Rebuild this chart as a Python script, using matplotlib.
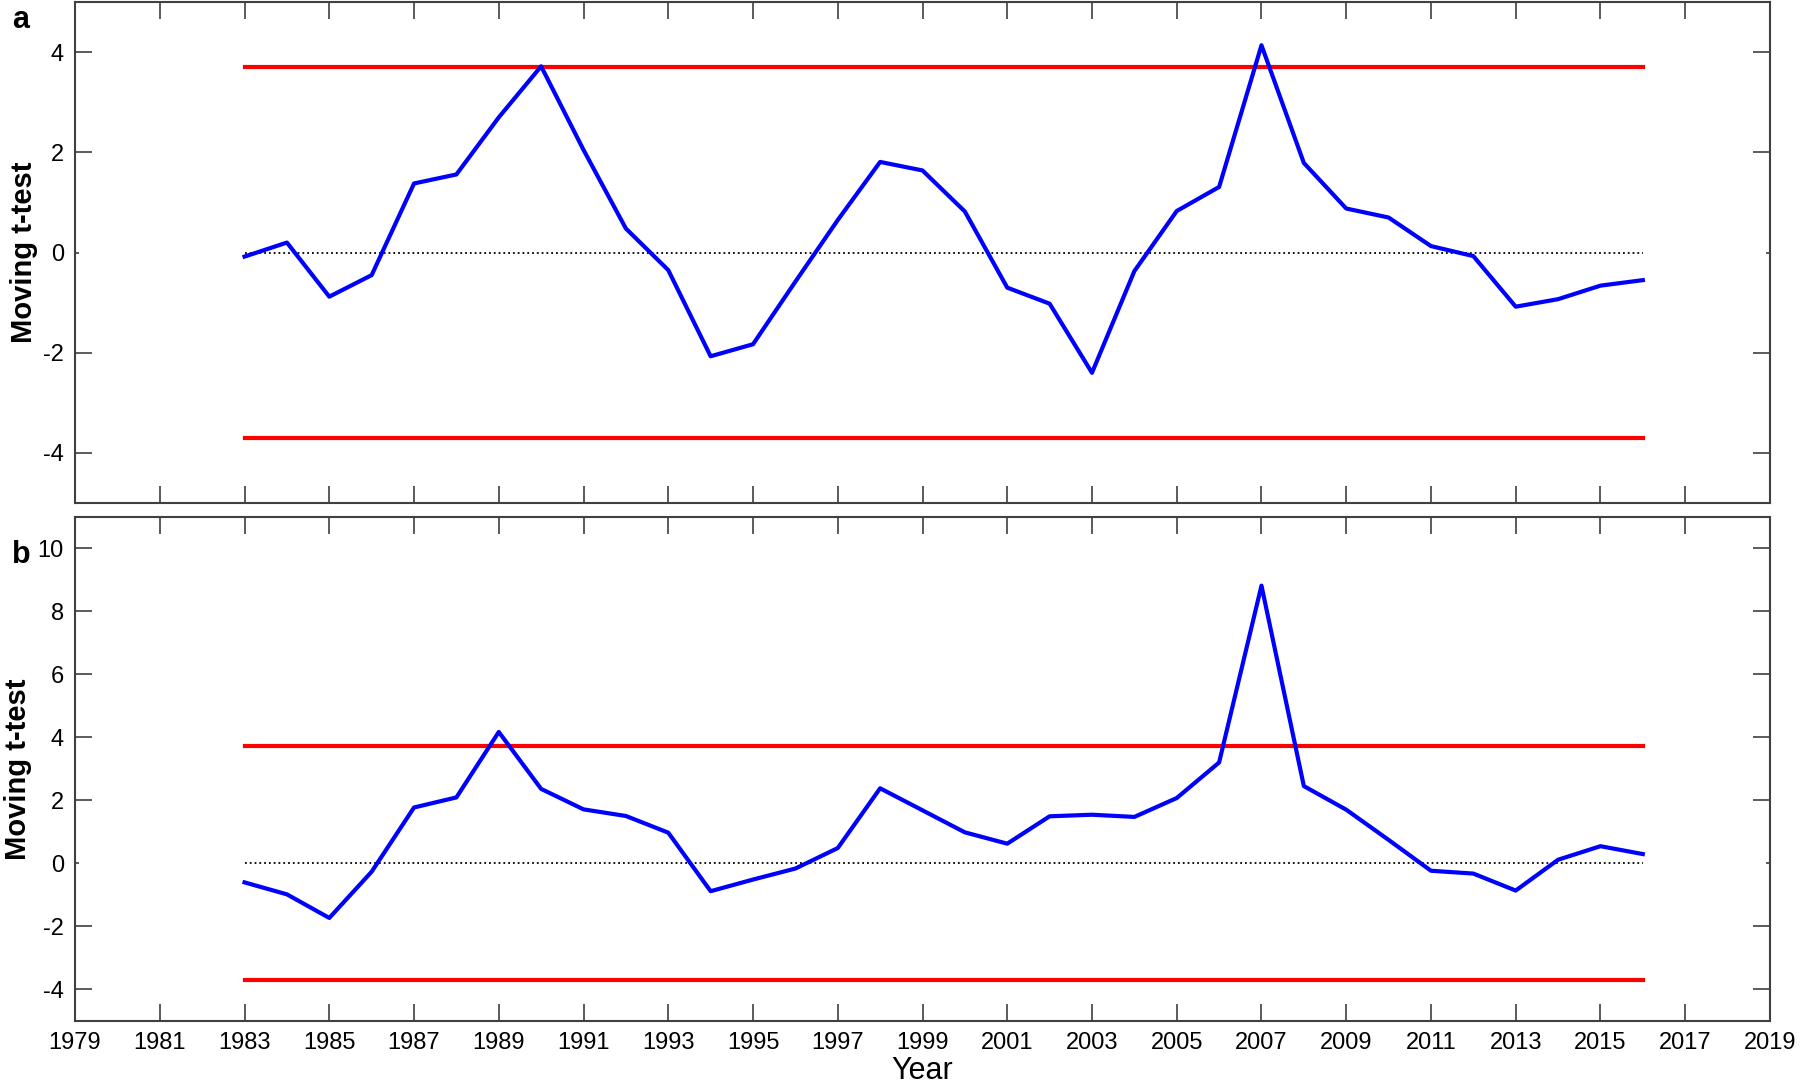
import matplotlib
matplotlib.use("Agg")
import matplotlib.pyplot as plt
import numpy as np

plt.rcParams["font.family"] = ["Liberation Sans", "DejaVu Sans"]
plt.rcParams["axes.unicode_minus"] = False

# Data
years = list(range(1983, 2017))

t_a = [-0.08, 0.20, -0.88, -0.45, 1.38, 1.56, 2.70, 3.72, 2.05, 0.48,
       -0.35, -2.07, -1.83, -0.58, 0.65, 1.81, 1.64, 0.82, -0.70, -1.02,
       -2.40, -0.37, 0.83, 1.31, 4.14, 1.79, 0.88, 0.70, 0.13, -0.07,
       -1.08, -0.93, -0.66, -0.55]

t_b = [-0.61, -0.99, -1.74, -0.27, 1.77, 2.09, 4.17, 2.36, 1.71, 1.50,
       0.97, -0.89, -0.52, -0.17, 0.48, 2.38, 1.68, 0.98, 0.62, 1.49,
       1.54, 1.47, 2.07, 3.20, 8.82, 2.45, 1.70, 0.74, -0.24, -0.33,
       -0.87, 0.11, 0.54, 0.29]

crit = 3.71

panels = [
    ("a", t_a, (-5, 5), [-4, -2, 0, 2, 4]),
    ("b", t_b, (-5, 11), [-4, -2, 0, 2, 4, 6, 8, 10]),
]

xticks = list(range(1979, 2020, 2))
edge = "#404040"

fig = plt.figure(figsize=(18, 10.85), dpi=100)
positions = [
    [0.0417, 0.5364, 0.9416, 0.4616],
    [0.0417, 0.0594, 0.9416, 0.4641],
]

for (letter, vals, ylim, yticks), pos in zip(panels, positions):
    ax = fig.add_axes(pos)
    ax.plot(years, np.zeros(len(years)), ":", color="black", lw=1.3)
    ax.plot([years[0], years[-1]], [crit, crit], color="#ff0000", lw=3.0)
    ax.plot([years[0], years[-1]], [-crit, -crit], color="#ff0000", lw=3.0)
    ax.plot(years, vals, color="#0000ff", lw=3.0)

    ax.set_xlim(1979, 2019)
    ax.set_ylim(*ylim)
    ax.set_xticks(xticks)
    ax.set_yticks(yticks)
    ax.tick_params(direction="in", length=12, width=1.2, color=edge,
                   top=True, right=True, labelsize=17, pad=8)
    for sp in ax.spines.values():
        sp.set_color(edge)
        sp.set_linewidth(1.5)

    # MATLAB-style tiny mark at zero
    for tk, v in zip(ax.yaxis.get_major_ticks(), yticks):
        if v == 0:
            tk.tick1line.set_markersize(3)
            tk.tick2line.set_markersize(3)

    ax.set_ylabel("Moving t-test", fontsize=21, fontweight="bold", labelpad=4)
    ax.text(-0.037, 0.995 if letter == "a" else 0.955, letter,
            transform=ax.transAxes, fontsize=22, fontweight="bold",
            ha="left", va="top")

    if letter == "a":
        ax.tick_params(labelbottom=False)
    else:
        ax.set_xlabel("Year", fontsize=22, labelpad=2)

fig.savefig("out.png", dpi=100)
